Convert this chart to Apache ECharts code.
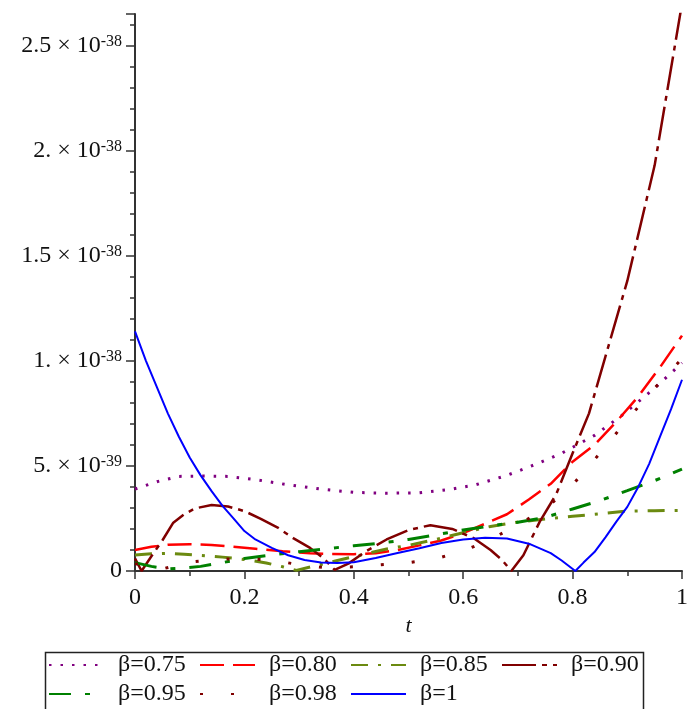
<!DOCTYPE html>
<html><head><meta charset="utf-8">
<script src="https://cdn.jsdelivr.net/npm/echarts@6/dist/echarts.min.js"></script>
<style>html,body{margin:0;padding:0;background:#fff}#c{width:691px;height:709px}</style>
</head><body><div id="c"></div>
<script>
// All values are in units of 1e-39
const seriesNames = ['β=0.75', 'β=0.80', 'β=0.85', 'β=0.90', 'β=0.95', 'β=0.98', 'β=1'];

const t075 = [0, 0.04, 0.08, 0.12, 0.17, 0.22, 0.28, 0.34, 0.4, 0.46, 0.52, 0.57, 0.62, 0.68, 0.73, 0.78, 0.84, 0.89, 0.95, 1.0];
const v075 = [3.9, 4.25, 4.5, 4.52, 4.5, 4.35, 4.1, 3.9, 3.74, 3.7, 3.72, 3.86, 4.08, 4.55, 5.05, 5.6, 6.45, 7.4, 8.7, 9.9];

const t080 = [0, 0.03, 0.06, 0.1, 0.14, 0.18, 0.22, 0.27, 0.32, 0.36, 0.4, 0.44, 0.48, 0.52, 0.56, 0.6, 0.64, 0.68, 0.72, 0.76, 0.8, 0.84, 0.88, 0.92, 0.96, 1.0];
const v080 = [1.0, 1.15, 1.25, 1.27, 1.24, 1.15, 1.06, 0.94, 0.85, 0.81, 0.8, 0.84, 1.0, 1.22, 1.45, 1.8, 2.25, 2.7, 3.4, 4.15, 5.2, 6.0, 7.1, 8.3, 9.7, 11.2];

const t085 = [0, 0.03, 0.06, 0.09, 0.12, 0.16, 0.2, 0.24, 0.27, 0.295, 0.33, 0.37, 0.42, 0.46, 0.5, 0.55, 0.6, 0.65, 0.7, 0.75, 0.8, 0.85, 0.9, 0.95, 1.0];
const v085 = [0.76, 0.82, 0.84, 0.8, 0.74, 0.66, 0.55, 0.38, 0.2, 0.03, 0.25, 0.5, 0.8, 1.05, 1.22, 1.5, 1.82, 2.12, 2.33, 2.47, 2.6, 2.72, 2.85, 2.87, 2.88];

const t090 = [0, 0.012, 0.03, 0.05, 0.07, 0.09, 0.11, 0.14, 0.17, 0.2, 0.23, 0.26, 0.29, 0.32, 0.345, 0.365, 0.39, 0.42, 0.46, 0.5, 0.54, 0.58, 0.62, 0.65, 0.67, 0.688, 0.71, 0.74, 0.77, 0.8, 0.83, 0.86, 0.9, 0.95, 1.0];
const v090 = [0.6, 0.0, 0.7, 1.45, 2.3, 2.7, 2.98, 3.14, 3.07, 2.85, 2.48, 2.08, 1.55, 1.1, 0.6, 0.05, 0.35, 0.9, 1.5, 1.95, 2.18, 2.0, 1.55, 1.0, 0.55, 0.0, 0.75, 2.35, 3.65, 5.6, 7.5, 10.2, 13.8, 19.3, 27.0];

const t095 = [0, 0.03, 0.06, 0.09, 0.12, 0.16, 0.2, 0.25, 0.3, 0.35, 0.4, 0.45, 0.5, 0.55, 0.6, 0.65, 0.7, 0.75, 0.8, 0.85, 0.9, 0.95, 1.0];
const v095 = [0.4, 0.22, 0.1, 0.14, 0.22, 0.4, 0.6, 0.76, 0.92, 1.06, 1.2, 1.33, 1.5, 1.72, 1.95, 2.15, 2.32, 2.55, 2.95, 3.35, 3.82, 4.3, 4.85];

const t098 = [0, 0.05, 0.1, 0.15, 0.2, 0.25, 0.3, 0.35, 0.4, 0.45, 0.5, 0.55, 0.6, 0.65, 0.7, 0.75, 0.8, 0.85, 0.9, 0.95, 1.0];
const v098 = [0.35, 0.1, 0.42, 0.55, 0.6, 0.52, 0.3, 0.15, 0.2, 0.3, 0.4, 0.58, 0.95, 1.5, 2.2, 2.95, 4.1, 5.6, 7.2, 8.7, 10.1];

const t100 = [0, 0.02, 0.04, 0.06, 0.08, 0.1, 0.12, 0.14, 0.16, 0.18, 0.2, 0.22, 0.25, 0.28, 0.31, 0.34, 0.37, 0.4, 0.44, 0.48, 0.52, 0.56, 0.6, 0.64, 0.68, 0.72, 0.76, 0.78, 0.805, 0.82, 0.84, 0.86, 0.88, 0.9, 0.92, 0.94, 0.96, 0.98, 1.0];
const v100 = [11.4, 10.0, 8.75, 7.5, 6.4, 5.4, 4.55, 3.8, 3.1, 2.5, 1.9, 1.5, 1.1, 0.75, 0.52, 0.4, 0.38, 0.42, 0.62, 0.86, 1.08, 1.33, 1.5, 1.58, 1.55, 1.3, 0.85, 0.5, 0.0, 0.4, 0.9, 1.6, 2.35, 3.05, 4.0, 5.1, 6.4, 7.7, 9.1];

const xTickLabels = ['0', '0.2', '0.4', '0.6', '0.8', '1'];
const yTickMantissa = ['0', '5.', '1.', '1.5', '2.', '2.5'];
const yTickExponent = ['', '-39', '-38', '-38', '-38', '-38'];

const FONT = 'Liberation Serif';
const pair = (ts, vs) => ts.map((t, i) => [t, vs[i]]);

const styles = [
  {color: '#800080', width: 3, type: [2.5, 9]},
  {color: '#ff0000', width: 2.5, type: [24, 9]},
  {color: '#6b8a10', width: 3, type: [17, 10, 3, 10]},
  {color: '#800000', width: 2.5, type: [34, 6, 5, 6]},
  {color: '#008000', width: 3, type: [22, 14, 5, 14]},
  {color: '#800000', width: 3, type: [3, 28]},
  {color: '#0000ff', width: 2, type: 'solid'}
];
const datas = [pair(t075, v075), pair(t080, v080), pair(t085, v085), pair(t090, v090), pair(t095, v095), pair(t098, v098), pair(t100, v100)];

const series = seriesNames.map((n, i) => ({
  name: n, type: 'line', data: datas[i], symbol: 'none', showSymbol: false,
  xAxisIndex: 0, yAxisIndex: 0, clip: true,
  lineStyle: {color: styles[i].color, width: styles[i].width, type: styles[i].type, cap: 'butt'},
  itemStyle: {color: styles[i].color},
  animation: false
}));

// measure legend text for column pitch
const LFS = 24;
const cv = document.createElement('canvas').getContext('2d');
cv.font = LFS + 'px "' + FONT + '"';
const tw = cv.measureText('β=0.75').width;
const pitch = 150, iw = 55, tpad = 9;
const gap = Math.max(2, pitch - iw - 5 - tpad - tw);

const legendCommon = {
  orient: 'horizontal', left: 48, itemWidth: iw, itemHeight: 14, itemGap: gap,
  textStyle: {fontFamily: FONT, fontSize: LFS, color: '#111', padding: [0, 0, 0, tpad]}, padding: 0,
  itemStyle: {color: 'rgba(0,0,0,0)', borderColor: 'rgba(0,0,0,0)', borderWidth: 0}
};

const chart = echarts.init(document.getElementById('c'), null, {renderer: 'canvas'});
chart.setOption({
  animation: false,
  backgroundColor: '#fff',
  grid: {left: 135, right: 2, top: 14, bottom: 138, containLabel: false},
  xAxis: [{
    type: 'value', min: 0, max: 1, interval: 0.2,
    name: 't', nameLocation: 'middle', nameGap: 42,
    nameTextStyle: {fontFamily: FONT, fontStyle: 'italic', fontSize: 22, color: '#111'},
    axisLine: {show: true, onZero: false, lineStyle: {color: '#333', width: 2}},
    axisTick: {show: true, length: 8, lineStyle: {color: '#333', width: 1.5}},
    minorTick: {show: true, splitNumber: 2, length: 5, lineStyle: {color: '#333', width: 1.5}},
    splitLine: {show: false},
    axisLabel: {
      margin: 15, fontFamily: FONT, fontSize: 24, color: '#111',
      formatter: v => { const k = Math.round(v / 0.2); return Math.abs(v - k * 0.2) < 1e-6 ? xTickLabels[k] : ''; }
    }
  }],
  yAxis: [{
    type: 'value', min: 0, max: 26.5, interval: 5,
    axisLine: {show: true, onZero: false, lineStyle: {color: '#333', width: 2}},
    axisTick: {show: true, length: 9, lineStyle: {color: '#333', width: 1.5}},
    splitLine: {show: false},
    axisLabel: {
      margin: 13, align: 'right',
      formatter: v => {
        const k = Math.round(v / 5);
        if (Math.abs(v - k * 5) > 1e-6 || k >= yTickMantissa.length) return '';
        if (k === 0) return '{m|' + yTickMantissa[0] + '}';
        return '{m|' + yTickMantissa[k] + ' × 10}{s|' + yTickExponent[k] + '}';
      },
      rich: {
        m: {fontFamily: FONT, fontSize: 24, color: '#111', lineHeight: 24, verticalAlign: 'bottom'},
        s: {fontFamily: FONT, fontSize: 16, color: '#111', lineHeight: 16, verticalAlign: 'top'}
      }
    }
  }, {
    type: 'value', min: 0, max: 26.5, interval: 1, position: 'left',
    axisLine: {show: false}, axisLabel: {show: false}, splitLine: {show: false},
    axisTick: {show: true, length: 5, lineStyle: {color: '#333', width: 1.5}}
  }],
  legend: [
    Object.assign({}, legendCommon, {top: 653, data: seriesNames.slice(0, 4)}),
    Object.assign({}, legendCommon, {top: 682, data: seriesNames.slice(4)})
  ],
  graphic: [{
    type: 'rect', left: 43, top: 650, silent: true,
    shape: {width: 598, height: 80},
    style: {fill: 'none', stroke: '#222', lineWidth: 1.5}
  }],
  series: series
});
</script></body></html>
